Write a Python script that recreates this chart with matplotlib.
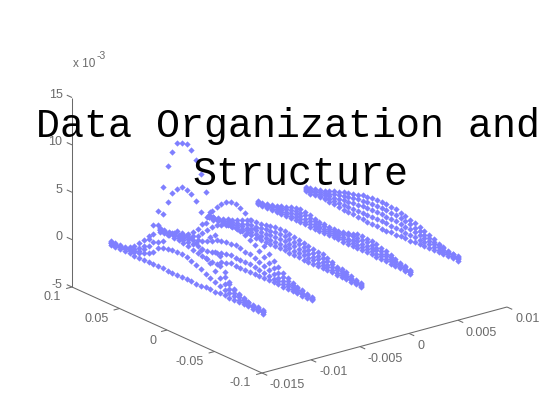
import numpy as np
import matplotlib
matplotlib.use('Agg')
import matplotlib.pyplot as plt

# sample positions along y, one per point of a curve
y_values = [0.08, 0.075, 0.07, 0.065, 0.06, 0.055, 0.05, 0.045, 0.04, 0.035, 0.03,
            0.025, 0.02, 0.015, 0.01, 0.005, 0.0, -0.005, -0.01, -0.015, -0.02, -0.025,
            -0.03, -0.035, -0.04, -0.045, -0.05, -0.055, -0.06, -0.065, -0.07, -0.075, -0.08]

x_band = [-0.013, -0.008, -0.003, 0.002, 0.0069]

# z values in units of 1e-3, five curves for each band
band1 = [
    [0.2, 0.2, 0.2, 0.3, 0.5, 0.8, 1.4, 1.9, 2.6, 3.9, 5.6,
     8.4, 10.8, 12.6, 13.7, 14.0, 14.1, 13.7, 12.8, 11.6, 9.9, 8.0,
     5.8, 3.8, 2.4, 1.5, 1.0, 0.7, 0.5, 0.4, 0.3, 0.3, 0.2],
    [0.1, 0.1, 0.15, 0.2, 0.3, 0.5, 0.8, 1.3, 2.2, 3.0, 4.2,
     5.5, 7.0, 8.2, 8.9, 9.3, 9.2, 9.0, 8.5, 7.6, 6.6, 5.4,
     4.0, 2.8, 1.9, 1.3, 0.9, 0.6, 0.4, 0.3, 0.2, 0.15, 0.1],
    [0.0, 0.05, 0.1, 0.15, 0.2, 0.3, 0.5, 0.9, 1.5, 2.1, 2.4,
     2.75, 3.6, 4.0, 4.4, 4.5, 4.5, 4.4, 4.1, 3.6, 3.0, 2.6,
     2.0, 1.5, 1.1, 0.8, 0.6, 0.4, 0.3, 0.2, 0.1, 0.05, 0.0],
    [0.0, 0.0, 0.05, 0.1, 0.15, 0.2, 0.3, 0.5, 0.75, 1.05, 1.75,
     2.0, 2.1, 2.2, 2.2, 2.2, 2.1, 2.0, 1.8, 1.6, 1.3, 1.1,
     0.9, 0.7, 0.5, 0.35, 0.25, 0.15, 0.1, 0.05, 0.03, 0.0, -0.05],
    [-0.2, -0.2, -0.15, -0.15, -0.2, -0.2, -0.2, -0.2, -0.2, -0.2, -0.2,
     -0.2, -0.2, -0.2, -0.2, -0.2, -0.2, -0.2, -0.2, -0.2, -0.1, -0.1,
     -0.15, -0.1, -0.1, -0.1, -0.1, -0.1, -0.1, -0.1, -0.15, -0.2, -0.2],
]
band2 = [
    [0.2, 0.2, 0.2, 0.3, 0.4, 0.6, 0.9, 1.3, 1.9, 2.7, 3.6,
     4.5, 5.1, 5.7, 6.1, 6.3, 6.3, 6.1, 5.8, 5.3, 4.7, 4.0,
     3.3, 2.7, 2.2, 1.7, 1.3, 1.0, 0.7, 0.5, 0.4, 0.3, 0.2],
    [0.1, 0.1, 0.15, 0.2, 0.3, 0.4, 0.6, 0.9, 1.2, 1.7, 2.2,
     2.8, 3.2, 3.5, 3.7, 3.8, 3.8, 3.7, 3.5, 3.2, 2.9, 2.5,
     2.1, 1.7, 1.4, 1.1, 0.9, 0.7, 0.5, 0.4, 0.3, 0.2, 0.1],
    [0.0, 0.05, 0.1, 0.15, 0.2, 0.25, 0.35, 0.5, 0.7, 0.9, 1.1,
     1.35, 1.6, 1.75, 1.9, 1.9, 2.0, 1.95, 1.75, 1.8, 1.6, 1.4,
     1.2, 1.0, 0.8, 0.6, 0.5, 0.4, 0.3, 0.2, 0.15, 0.1, 0.0],
    [0.0, 0.0, 0.0, 0.05, 0.05, 0.1, 0.1, 0.1, 0.05, 0.0, 0.0,
     0.1, 0.3, 0.5, 0.6, 0.7, 0.7, 0.7, 0.7, 0.65, 0.6, 0.5,
     0.4, 0.35, 0.3, 0.25, 0.2, 0.15, 0.1, 0.05, 0.0, 0.0, -0.05],
    [-0.2, -0.15, -0.1, -0.15, -0.2, -0.25, -0.35, -0.5, -0.6, -0.7, -0.8,
     -0.9, -0.9, -0.5, -0.3, -0.15, -0.2, -0.15, -0.15, -0.1, -0.1, -0.1,
     -0.1, -0.1, -0.1, -0.1, -0.1, -0.1, -0.1, -0.1, -0.15, -0.2, -0.2],
]
band3 = [
    [0.15, 0.2, 0.3, 0.45, 0.6, 0.8, 1.0, 1.25, 1.45, 1.65, 1.7,
     1.75, 1.85, 1.95, 2.05, 2.1, 2.1, 2.0, 1.9, 1.85, 1.75, 1.65,
     1.55, 1.5, 1.45, 1.35, 1.15, 0.85, 0.8, 0.75, 0.5, 0.35, 0.2],
    [0.1, 0.15, 0.2, 0.3, 0.4, 0.55, 0.7, 0.85, 1.0, 1.15, 1.2,
     1.3, 1.4, 1.45, 1.55, 1.55, 1.55, 1.5, 1.45, 1.4, 1.3, 1.25,
     1.15, 1.1, 1.05, 0.95, 0.85, 0.7, 0.6, 0.5, 0.35, 0.25, 0.1],
    [0.05, 0.05, 0.1, 0.2, 0.25, 0.35, 0.45, 0.55, 0.65, 0.7, 0.8,
     0.85, 0.9, 0.95, 1.0, 1.0, 1.0, 1.0, 0.95, 0.9, 0.85, 0.8,
     0.75, 0.7, 0.65, 0.6, 0.55, 0.45, 0.4, 0.3, 0.2, 0.15, 0.0],
    [0.0, 0.0, 0.05, 0.1, 0.15, 0.2, 0.25, 0.3, 0.35, 0.4, 0.4,
     0.45, 0.5, 0.5, 0.5, 0.5, 0.5, 0.5, 0.5, 0.45, 0.45, 0.4,
     0.4, 0.35, 0.35, 0.3, 0.25, 0.2, 0.2, 0.15, 0.1, 0.05, -0.05],
    [-0.1, -0.1, -0.05, -0.05, 0.0, 0.0, 0.0, 0.05, 0.05, 0.05, 0.05,
     0.05, 0.05, 0.05, 0.05, 0.05, 0.05, 0.05, 0.05, 0.05, 0.0, 0.0,
     0.0, 0.0, 0.0, 0.0, 0.0, -0.05, -0.05, -0.05, -0.1, -0.1, -0.15],
]
band4 = [
    [0.2, 0.3, 0.4, 0.5, 0.65, 0.85, 1.0, 1.2, 1.35, 1.4, 1.35,
     1.25, 1.1, 1.0, 0.95, 0.9, 0.9, 0.95, 1.05, 1.2, 1.35, 1.5,
     1.5, 1.5, 1.45, 1.35, 1.2, 1.05, 0.9, 0.7, 0.55, 0.4, 0.2],
    [0.1, 0.2, 0.3, 0.4, 0.5, 0.65, 0.75, 0.9, 1.0, 1.05, 1.0,
     0.9, 0.85, 0.75, 0.75, 0.7, 0.7, 0.75, 0.85, 0.95, 1.05, 1.1,
     1.15, 1.15, 1.1, 1.0, 0.9, 0.8, 0.65, 0.5, 0.4, 0.3, 0.1],
    [0.05, 0.1, 0.15, 0.25, 0.3, 0.4, 0.5, 0.6, 0.65, 0.7, 0.65,
     0.6, 0.55, 0.5, 0.5, 0.5, 0.5, 0.5, 0.55, 0.6, 0.7, 0.75,
     0.75, 0.75, 0.7, 0.7, 0.6, 0.55, 0.45, 0.35, 0.25, 0.15, 0.05],
    [0.0, 0.0, 0.05, 0.1, 0.15, 0.2, 0.25, 0.3, 0.35, 0.35, 0.35,
     0.3, 0.3, 0.3, 0.25, 0.25, 0.3, 0.3, 0.3, 0.35, 0.35, 0.4,
     0.4, 0.4, 0.4, 0.35, 0.3, 0.3, 0.25, 0.2, 0.1, 0.05, 0.0],
    [-0.1, -0.1, -0.05, -0.05, 0.0, 0.0, 0.05, 0.05, 0.05, 0.05, 0.05,
     0.05, 0.05, 0.05, 0.05, 0.05, 0.05, 0.05, 0.05, 0.05, 0.05, 0.05,
     0.05, 0.05, 0.05, 0.05, 0.05, 0.0, 0.0, 0.0, -0.05, -0.1, -0.15],
]
band5 = [
    [0.35, 0.45, 0.55, 0.7, 0.85, 1.05, 1.25, 1.45, 1.6, 1.75, 1.9,
     2.05, 2.2, 2.3, 2.35, 2.4, 2.4, 2.4, 2.35, 2.3, 2.2, 2.05,
     1.9, 1.75, 1.55, 1.35, 1.15, 0.95, 0.75, 0.6, 0.45, 0.35, 0.3],
    [0.25, 0.3, 0.4, 0.5, 0.65, 0.8, 0.95, 1.1, 1.25, 1.35, 1.45,
     1.55, 1.6, 1.7, 1.75, 1.8, 1.8, 1.8, 1.75, 1.7, 1.6, 1.5,
     1.4, 1.3, 1.15, 1.0, 0.85, 0.7, 0.55, 0.45, 0.35, 0.3, 0.2],
    [0.15, 0.15, 0.25, 0.3, 0.4, 0.5, 0.6, 0.7, 0.8, 0.85, 0.95,
     1.0, 1.05, 1.05, 1.1, 1.1, 1.1, 1.1, 1.05, 1.05, 1.0, 0.95,
     0.9, 0.8, 0.7, 0.65, 0.55, 0.45, 0.35, 0.3, 0.2, 0.15, 0.1],
    [0.0, 0.05, 0.1, 0.1, 0.15, 0.2, 0.2, 0.25, 0.3, 0.3, 0.35,
     0.35, 0.35, 0.4, 0.4, 0.4, 0.4, 0.4, 0.35, 0.35, 0.35, 0.3,
     0.3, 0.3, 0.25, 0.2, 0.2, 0.15, 0.1, 0.05, 0.05, 0.0, 0.0],
    [-0.1, -0.1, -0.05, -0.05, -0.05, -0.1, -0.1, -0.15, -0.2, -0.25, -0.25,
     -0.3, -0.3, -0.35, -0.35, -0.4, -0.4, -0.4, -0.35, -0.35, -0.3, -0.3,
     -0.3, -0.25, -0.25, -0.2, -0.15, -0.15, -0.1, -0.1, -0.1, -0.1, -0.15],
]
bands = [band1, band2, band3, band4, band5]

x_ticks = [-0.015, -0.01, -0.005, 0, 0.005, 0.01]
x_tick_labels = ['-0.015', '-0.01', '-0.005', '0', '0.005', '0.01']
y_ticks = [-0.1, -0.05, 0, 0.05, 0.1]
y_tick_labels = ['-0.1', '-0.05', '0', '0.05', '0.1']
z_ticks = [-0.005, 0, 0.005, 0.01, 0.015]
z_tick_labels = ['-5', '0', '5', '10', '15']


# same look as view(3) in the original: parallel projection onto the page
def project(x, y, z):
    x = np.asarray(x, dtype=float)
    y = np.asarray(y, dtype=float)
    z = np.asarray(z, dtype=float)
    u = (x + 0.015) / 0.025
    v = (y + 0.1) / 0.2
    w = (z + 0.005) / 0.02
    return 262 + 245 * u - 190 * v, 373 - 66 * u - 86 * v - 189.5 * w


grey = '#6a6a6a'
blue = '#7f7fff'

plt.rcParams['font.family'] = ['Liberation Sans', 'DejaVu Sans']

fig = plt.figure(figsize=(5.6, 4.2), dpi=100)
ax = fig.add_axes([0, 0, 1, 1])
ax.set_xlim(0, 560)
ax.set_ylim(420, 0)
ax.axis('off')

# points
for band_x, band in zip(x_band, bands):
    for curve in band:
        px, py = project(np.full(len(y_values), band_x), y_values, np.array(curve) * 1e-3)
        ax.plot(px, py, linestyle='none', marker='D', markersize=3.2,
                markeredgewidth=0, color=blue)


def axis_line(x, y, z):
    px, py = project(x, y, z)
    ax.plot(px, py, color=grey, linewidth=0.75, solid_capstyle='butt')


# axes
axis_line([-0.015, 0.01], [-0.1, -0.1], [-0.005, -0.005])
axis_line([-0.015, -0.015], [-0.1, 0.1], [-0.005, -0.005])
axis_line([-0.015, -0.015], [0.1, 0.1], [-0.005, 0.015])

for tick, label in zip(x_ticks, x_tick_labels):
    axis_line([tick, tick], [-0.1, -0.1055], [-0.005, -0.005])
    px, py = project(tick, -0.1, -0.005)
    ax.text(px + 8, py + 12.5, label, color=grey, fontsize=9, ha='left', va='center')

for tick, label in zip(y_ticks, y_tick_labels):
    axis_line([-0.015, -0.0156], [tick, tick], [-0.005, -0.005])
    px, py = project(-0.015, tick, -0.005)
    ax.text(px - 11, py + 10.5, label, color=grey, fontsize=9, ha='right', va='center')

for tick, label in zip(z_ticks, z_tick_labels):
    axis_line([-0.015, -0.015], [0.1, 0.1055], [tick, tick])
    px, py = project(-0.015, 0.1, tick)
    ax.text(px - 9.5, py - 2.5, label, color=grey, fontsize=9, ha='right', va='center')

ax.text(73, 64, 'x 10', color=grey, fontsize=8.5, ha='left', va='center')
ax.text(97, 56, '-3', color=grey, fontsize=7.5, ha='left', va='center')

# title sits over the plot
ax.text(36, 137, 'Data Organization and', family=['Liberation Mono'], fontsize=28.8,
        color='black', ha='left', va='baseline', zorder=5)
ax.text(192, 185, 'Structure', family=['Liberation Mono'], fontsize=28.8,
        color='black', ha='left', va='baseline', zorder=5)

fig.savefig('out.png', dpi=100, facecolor='white')
